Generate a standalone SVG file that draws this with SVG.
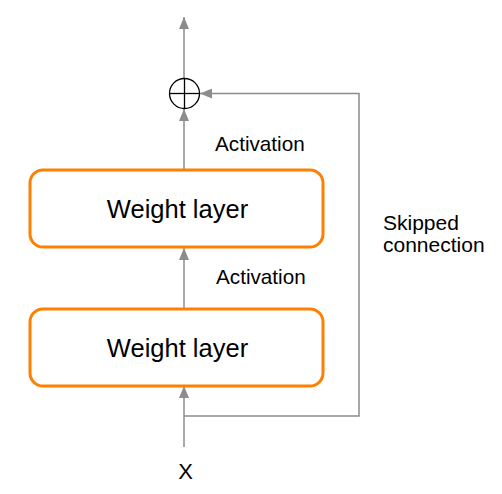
<svg xmlns="http://www.w3.org/2000/svg" width="502" height="494" viewBox="0 0 502 494">
<style>
.box{fill:#fff;stroke:#ff8000;stroke-width:3}
.ln{fill:none;stroke:#8c8c8c;stroke-width:1.5}
.t{font-family:"Liberation Sans",Arial,sans-serif;fill:#000}
</style>
<defs>
<marker id="ah" viewBox="0 0 12 10" refX="12" refY="5" markerWidth="12" markerHeight="10" markerUnits="userSpaceOnUse" orient="auto">
<path d="M0,0 L12,5 L0,10 Z" fill="#8c8c8c"/>
</marker>
</defs>
<rect width="502" height="494" fill="#fff"/>
<g id="connectors">
<line class="ln" x1="184" y1="447" x2="184" y2="386" marker-end="url(#ah)"/>
<polyline class="ln" points="184,416 359,416 359,93.5 200,93.5" marker-end="url(#ah)"/>
<line class="ln" x1="184" y1="308" x2="184" y2="248" marker-end="url(#ah)"/>
<line class="ln" x1="184" y1="170" x2="184" y2="109" marker-end="url(#ah)"/>
<line class="ln" x1="184" y1="78" x2="184" y2="17" marker-end="url(#ah)"/>
</g>
<g id="sum">
<circle cx="184.5" cy="93.5" r="15" fill="#fff" stroke="#000" stroke-width="1.3"/>
<line x1="169.5" y1="93.5" x2="199.5" y2="93.5" stroke="#000" stroke-width="1.3"/>
<line x1="184.5" y1="78.5" x2="184.5" y2="108.5" stroke="#000" stroke-width="1.3"/>
</g>
<g id="layer2">
<rect class="box" x="30" y="170" width="293" height="77" rx="13"/>
<text class="t" x="177.5" y="218" font-size="25.5" text-anchor="middle">Weight layer</text>
</g>
<g id="layer1">
<rect class="box" x="30" y="309" width="293" height="77" rx="13"/>
<text class="t" x="177.5" y="357" font-size="25.5" text-anchor="middle">Weight layer</text>
</g>
<g id="labels">
<text class="t" x="215" y="151" font-size="20.7">Activation</text>
<text class="t" x="216" y="284" font-size="20.7">Activation</text>
<text class="t" x="383" y="230" font-size="21">Skipped</text>
<text class="t" x="383" y="252" font-size="21">connection</text>
<text class="t" x="185.5" y="479" font-size="22" text-anchor="middle">X</text>
</g>
</svg>
